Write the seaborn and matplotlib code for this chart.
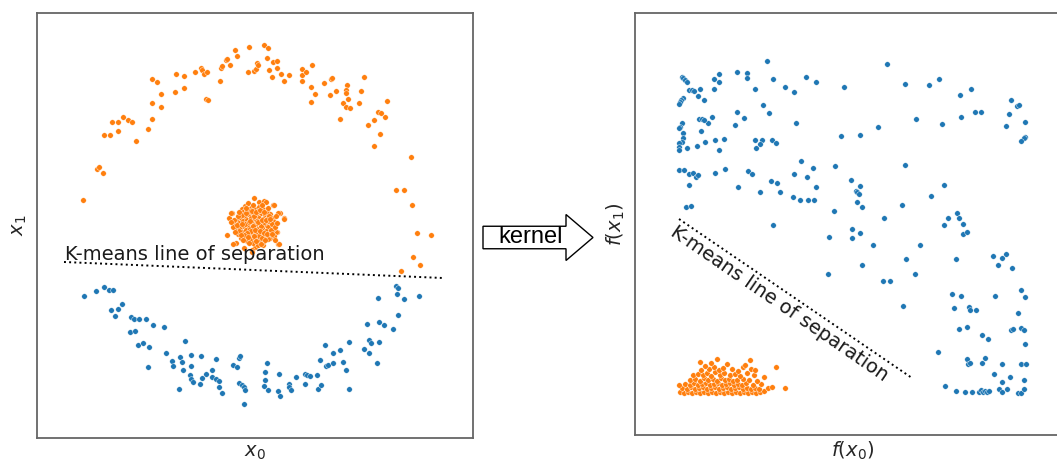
import matplotlib
matplotlib.use("Agg")
import matplotlib.pyplot as plt
import matplotlib.patches as mpatches
import seaborn as sns
import pandas as pd

# ---- left panel: raw data (x0, x1) ----
ring_top = [
    (-1.72, 0.24), (-1.58, 0.55), (-1.56, 0.57), (-1.52, 0.51), (-1.51, 0.89), (-1.45, 0.89),
    (-1.43, 1.02), (-1.37, 1.02), (-1.37, 0.93), (-1.32, 1.07), (-1.27, 1.04), (-1.23, 1.02),
    (-1.19, 0.83), (-1.07, 0.95), (-1.03, 1.05), (-1.03, 1.21), (-1.03, 1.45), (-0.98, 1.42),
    (-0.94, 1.17), (-0.94, 1.30), (-0.80, 1.32), (-0.79, 1.50), (-0.71, 1.48), (-0.71, 1.36),
    (-0.60, 1.52), (-0.54, 1.56), (-0.53, 1.54), (-0.51, 1.50), (-0.48, 1.52), (-0.49, 1.25),
    (-0.47, 1.24), (-0.35, 1.43), (-0.34, 1.56), (-0.33, 1.58), (-0.29, 1.64), (-0.28, 1.65),
    (-0.25, 1.59), (-0.20, 1.74), (-0.18, 1.68), (-0.07, 1.52), (-0.06, 1.77), (-0.01, 1.53),
    (0.01, 1.55), (0.02, 1.61), (0.03, 1.59), (0.09, 1.79), (0.13, 1.76), (0.12, 1.66),
    (0.14, 1.54), (0.17, 1.47), (0.18, 1.62), (0.22, 1.63), (0.22, 1.56), (0.26, 1.50),
    (0.29, 1.43), (0.34, 1.49), (0.47, 1.55), (0.47, 1.49), (0.47, 1.43), (0.51, 1.52),
    (0.57, 1.59), (0.56, 1.37), (0.60, 1.30), (0.56, 1.22), (0.69, 1.41), (0.76, 1.45),
    (0.77, 1.46), (0.75, 1.29), (0.81, 1.33), (0.85, 1.05), (0.88, 1.21), (0.91, 1.17),
    (0.92, 1.39), (0.91, 1.34), (0.91, 1.31), (0.93, 1.25), (0.95, 1.16), (1.04, 1.21),
    (1.06, 1.33), (1.09, 1.47), (1.13, 0.99), (1.19, 1.04), (1.19, 0.78), (1.23, 1.12),
    (1.26, 1.11), (1.25, 0.90), (1.30, 1.07), (1.32, 1.23), (1.56, 0.67), (1.41, 0.34),
    (1.49, 0.34), (1.57, 0.19), (1.62, -0.09), (1.76, -0.11), (1.58, -0.33), (1.65, -0.41),
    (1.46, -0.47),
]
inner_blob = [
    (-0.01, 0.26), (0.04, 0.22), (0.09, 0.23), (0.11, 0.22), (0.18, 0.19), (-0.10, 0.18),
    (-0.13, 0.15), (0.25, 0.11), (0.29, 0.06), (0.18, 0.06), (-0.23, 0.11), (-0.26, 0.06),
    (-0.28, -0.11), (0.22, -0.08), (0.23, -0.20), (-0.19, -0.19), (-0.11, -0.24), (0.00, -0.23),
    (-0.03, -0.26), (0.08, -0.21), (0.15, -0.14), (-0.24, 0.11), (-0.07, 0.21), (0.19, 0.19),
    (0.29, 0.05), (0.23, 0.11), (0.21, -0.08), (0.24, -0.20), (-0.22, -0.20), (-0.03, -0.28),
    (-0.15, 0.10), (-0.12, 0.12), (-0.08, 0.14), (-0.04, 0.16), (0.00, 0.15), (0.04, 0.17),
    (0.08, 0.15), (0.12, 0.13), (0.15, 0.10), (0.17, 0.06), (-0.18, 0.05), (-0.14, 0.06),
    (-0.10, 0.08), (-0.06, 0.10), (-0.02, 0.11), (0.02, 0.10), (0.06, 0.11), (0.10, 0.09),
    (0.13, 0.06), (0.19, 0.02), (-0.20, 0.00), (-0.16, 0.01), (-0.12, 0.03), (-0.08, 0.04),
    (-0.04, 0.06), (0.00, 0.05), (0.04, 0.06), (0.08, 0.05), (0.12, 0.02), (0.16, -0.01),
    (-0.19, -0.05), (-0.15, -0.04), (-0.11, -0.02), (-0.07, -0.01), (-0.03, 0.01), (0.01, 0.00),
    (0.05, 0.01), (0.09, -0.01), (0.13, -0.03), (0.18, -0.05), (-0.17, -0.10), (-0.13, -0.08),
    (-0.09, -0.06), (-0.05, -0.05), (-0.01, -0.04), (0.03, -0.05), (0.07, -0.04), (0.11, -0.07),
    (0.15, -0.09), (0.19, -0.12), (-0.14, -0.14), (-0.10, -0.12), (-0.06, -0.10), (-0.02, -0.09),
    (0.02, -0.10), (0.06, -0.09), (0.10, -0.12), (0.13, -0.15), (-0.08, -0.17), (-0.04, -0.15),
    (0.00, -0.14), (0.04, -0.16), (0.08, -0.18), (-0.02, -0.19), (0.03, -0.21), (-0.10, 0.00),
    (-0.06, 0.02), (-0.02, -0.02), (0.02, 0.03), (0.06, -0.02), (-0.04, -0.07), (0.00, -0.06),
    (0.04, -0.12), (-0.08, -0.09), (0.09, 0.02), (-0.13, 0.09), (0.11, 0.12), (-0.01, 0.08),
    (0.03, 0.13), (-0.05, 0.13), (0.14, 0.03), (-0.16, -0.07), (0.16, -0.06), (-0.11, -0.11),
    (0.07, -0.14), (-0.21, 0.04), (-0.17, 0.08), (-0.09, 0.11), (-0.03, 0.13), (0.01, 0.12),
    (0.05, 0.14), (0.09, 0.12), (0.14, 0.08), (0.17, 0.00), (0.20, -0.03), (-0.22, -0.03),
    (-0.18, -0.01), (-0.13, 0.00), (-0.05, 0.03), (0.03, 0.02), (0.07, 0.04), (0.11, 0.04),
    (0.15, 0.05), (-0.14, -0.11), (-0.07, -0.13), (-0.01, -0.12), (0.05, -0.07), (0.09, -0.09),
    (0.12, -0.10), (0.17, -0.10), (-0.12, -0.16), (-0.06, -0.19), (0.01, -0.17), (0.06, -0.20),
    (0.10, -0.16), (-0.20, -0.08), (-0.24, 0.02), (0.21, 0.08), (0.22, 0.01), (-0.16, 0.12),
    (0.07, 0.19), (-0.02, 0.19), (-0.09, 0.16), (0.13, 0.16), (0.20, -0.16),
]
ring_bottom = [
    (-1.71, -0.72), (-1.59, -0.67), (-1.51, -0.63), (-1.46, -0.66), (-1.42, -0.66), (-1.44, -0.86),
    (-1.37, -0.85), (-1.33, -0.80), (-1.40, -0.92), (-1.24, -0.93), (-1.21, -0.95), (-1.16, -0.95),
    (-1.09, -0.95), (-1.25, -1.08), (-1.20, -1.07), (-1.02, -1.01), (-0.91, -1.03), (-1.17, -1.21),
    (-1.12, -1.19), (-1.06, -1.23), (-1.07, -1.43), (-0.89, -1.29), (-0.83, -1.37), (-0.82, -1.42),
    (-0.75, -1.33), (-0.73, -1.38), (-0.72, -1.46), (-0.70, -1.17), (-0.76, -1.65), (-0.64, -1.31),
    (-0.64, -1.42), (-0.65, -1.51), (-0.64, -1.55), (-0.62, -1.58), (-0.54, -1.32), (-0.55, -1.60),
    (-0.53, -1.54), (-0.49, -1.50), (-0.43, -1.46), (-0.43, -1.53), (-0.39, -1.35), (-0.39, -1.55),
    (-0.36, -1.57), (-0.36, -1.63), (-0.33, -1.69), (-0.22, -1.41), (-0.18, -1.43), (-0.16, -1.34),
    (-0.15, -1.32), (-0.16, -1.59), (-0.13, -1.61), (-0.11, -1.63), (-0.10, -1.66), (-0.11, -1.80),
    (0.12, -1.39), (0.10, -1.48), (0.10, -1.56), (0.09, -1.62), (0.13, -1.66), (0.24, -1.50),
    (0.23, -1.67), (0.25, -1.72), (0.34, -1.60), (0.34, -1.63), (0.36, -1.66), (0.41, -1.53),
    (0.50, -1.50), (0.52, -1.51), (0.55, -1.52), (0.50, -1.60), (0.62, -1.51), (0.63, -1.65),
    (0.66, -1.61), (0.65, -1.36), (0.70, -1.21), (0.71, -1.42), (0.73, -1.41), (0.78, -1.29),
    (0.78, -1.39), (0.85, -1.26), (0.88, -1.38), (0.91, -1.46), (0.94, -1.18), (0.94, -1.65),
    (1.09, -1.25), (1.14, -1.16), (1.16, -1.19), (1.14, -1.29), (1.24, -1.18), (1.22, -1.39),
    (1.12, -1.00), (1.24, -0.98), (1.29, -1.01), (1.38, -1.05), (1.23, -0.74), (1.43, -0.91),
    (1.41, -0.62), (1.43, -0.64), (1.42, -0.70), (1.49, -0.75), (1.64, -0.72),
]
kmeans_left_x = [-1.91, 1.88]
kmeans_left_y = [-0.38, -0.54]

# ---- right panel: kernel features f(x0), f(x1) ----
feat_blue = [
    (1.32, 3.74), (2.52, 3.71), (0.47, 3.58), (0.48, 3.57), (0.50, 3.55), (0.52, 3.53),
    (0.54, 3.45), (0.57, 3.45), (0.59, 3.44), (0.65, 3.46), (0.63, 3.39), (0.69, 3.35),
    (0.48, 3.37), (0.46, 3.35), (0.45, 3.33), (0.44, 3.31), (0.79, 3.56), (0.84, 3.61),
    (0.84, 3.53), (0.79, 3.46), (1.02, 3.63), (1.12, 3.62), (1.12, 3.57), (1.20, 3.46),
    (1.38, 3.56), (1.50, 3.48), (1.59, 3.43), (1.71, 3.58), (1.81, 3.53), (2.09, 3.48),
    (2.70, 3.51), (2.94, 3.50), (3.04, 3.56), (3.25, 3.40), (3.36, 3.46), (3.76, 3.35),
    (3.82, 3.29), (3.84, 3.30), (3.74, 3.21), (3.71, 3.09), (3.90, 3.13), (3.90, 2.98),
    (3.89, 2.97), (3.86, 2.94), (3.40, 3.23), (3.46, 3.23), (3.26, 3.18), (3.07, 3.11),
    (2.81, 3.16), (2.43, 3.08), (2.06, 2.99), (2.25, 3.00), (1.61, 3.12), (1.28, 3.30),
    (1.34, 3.22), (1.02, 3.23), (1.09, 3.17), (1.00, 3.10), (0.77, 3.18), (0.73, 3.12),
    (0.64, 3.16), (0.67, 3.16), (0.69, 3.15), (0.66, 3.04), (0.47, 3.12), (0.45, 3.08),
    (0.44, 3.07), (0.48, 3.02), (0.48, 2.97), (0.47, 2.93), (0.44, 2.92), (0.44, 2.88),
    (0.44, 2.85), (0.52, 2.87), (0.62, 2.89), (0.70, 2.93), (0.80, 2.95), (0.89, 2.96),
    (0.84, 2.85), (1.20, 2.95), (1.27, 2.95), (1.25, 2.91), (1.21, 2.87), (1.37, 2.95),
    (1.41, 2.92), (0.44, 2.65), (0.49, 2.65), (0.54, 2.61), (0.58, 2.62), (0.61, 2.58),
    (0.63, 2.60), (0.80, 2.62), (0.90, 2.66), (0.54, 2.50), (0.51, 2.28), (0.56, 2.29),
    (1.13, 2.64), (1.17, 2.61), (1.03, 2.48), (1.25, 2.43), (1.36, 2.54), (1.42, 2.52),
    (1.45, 2.43), (1.66, 2.74), (1.59, 2.61), (1.72, 2.58), (1.78, 2.67), (1.81, 2.48),
    (1.58, 2.38), (1.65, 2.35), (1.73, 2.35), (1.79, 2.35), (2.00, 2.69), (2.16, 2.55),
    (2.25, 2.49), (2.21, 2.44), (2.22, 2.43), (2.24, 2.41), (2.22, 2.33), (2.27, 2.28),
    (1.99, 2.24), (1.38, 2.10), (2.49, 2.17), (2.67, 2.30), (2.70, 2.70), (2.96, 2.39),
    (3.09, 2.50), (3.22, 2.22), (3.24, 2.17), (3.13, 2.17), (3.09, 2.10), (3.28, 2.01),
    (2.17, 1.97), (1.94, 1.98), (2.17, 2.06), (2.25, 2.02), (2.38, 1.90), (1.93, 1.61),
    (2.27, 1.70), (2.48, 1.54), (2.55, 1.54), (2.71, 1.76), (2.85, 1.90), (2.80, 1.61),
    (2.68, 1.29), (3.28, 2.11), (3.32, 2.03), (3.21, 1.76), (3.58, 1.79), (3.63, 1.70),
    (3.67, 1.77), (3.71, 1.81), (3.77, 1.67), (3.17, 1.41), (3.26, 1.39), (3.60, 1.39),
    (3.86, 1.45), (3.90, 1.38), (3.19, 1.27), (3.34, 1.28), (3.35, 1.25), (3.41, 1.25),
    (3.83, 1.22), (3.24, 1.06), (3.32, 1.08), (3.47, 1.00), (3.53, 0.96), (3.76, 1.05),
    (3.78, 1.06), (3.86, 1.07), (3.89, 1.05), (3.90, 0.91), (3.03, 0.83), (3.32, 0.76),
    (3.33, 0.71), (3.35, 0.72), (3.47, 0.72), (3.50, 0.77), (3.67, 0.71), (3.86, 0.71),
    (3.91, 0.71), (3.59, 0.61), (3.75, 0.58), (3.67, 0.53), (3.89, 0.55), (3.10, 0.49),
    (3.21, 0.44), (3.30, 0.43), (3.37, 0.43), (3.44, 0.43), (3.46, 0.45), (3.48, 0.43),
    (3.50, 0.44), (3.52, 0.43), (3.54, 0.44), (3.64, 0.46), (3.67, 0.43), (3.72, 0.46),
    (3.83, 0.42), (3.86, 0.42), (3.89, 0.46),
]
feat_orange = [
    (0.45, 0.43), (0.49, 0.42), (0.53, 0.43), (0.57, 0.42), (0.61, 0.43), (0.65, 0.42),
    (0.69, 0.43), (0.73, 0.42), (0.77, 0.43), (0.81, 0.42), (0.85, 0.43), (0.89, 0.42),
    (0.93, 0.43), (0.97, 0.42), (1.01, 0.43), (1.05, 0.42), (1.09, 0.43), (1.13, 0.42),
    (1.17, 0.43), (1.21, 0.42), (1.25, 0.43), (1.29, 0.44), (0.47, 0.47), (0.52, 0.46),
    (0.56, 0.48), (0.60, 0.46), (0.64, 0.47), (0.68, 0.48), (0.72, 0.46), (0.76, 0.47),
    (0.80, 0.48), (0.84, 0.46), (0.88, 0.47), (0.92, 0.48), (0.96, 0.46), (1.00, 0.47),
    (1.04, 0.48), (1.08, 0.46), (1.12, 0.47), (1.16, 0.46), (1.20, 0.47), (1.24, 0.46),
    (1.33, 0.47), (1.37, 0.48), (0.50, 0.51), (0.55, 0.50), (0.59, 0.52), (0.63, 0.50),
    (0.67, 0.51), (0.71, 0.52), (0.75, 0.50), (0.79, 0.51), (0.83, 0.52), (0.87, 0.50),
    (0.91, 0.51), (0.95, 0.52), (0.99, 0.50), (1.03, 0.51), (1.07, 0.50), (1.11, 0.52),
    (1.18, 0.50), (1.26, 0.51), (0.55, 0.55), (0.60, 0.56), (0.65, 0.54), (0.69, 0.57),
    (0.73, 0.55), (0.78, 0.56), (0.82, 0.54), (0.86, 0.57), (0.90, 0.55), (0.94, 0.56),
    (0.98, 0.54), (1.02, 0.55), (1.08, 0.56), (1.14, 0.55), (1.22, 0.54), (0.58, 0.60),
    (0.63, 0.61), (0.68, 0.60), (0.72, 0.62), (0.76, 0.59), (0.80, 0.63), (0.85, 0.60),
    (0.89, 0.62), (0.95, 0.60), (1.00, 0.61), (1.05, 0.59), (1.12, 0.62), (1.19, 0.60),
    (0.66, 0.65), (0.74, 0.66), (0.79, 0.68), (0.84, 0.65), (0.88, 0.67), (0.97, 0.66),
    (1.03, 0.64), (1.08, 0.68), (1.16, 0.66), (1.50, 0.47), (1.41, 0.68), (0.82, 0.76),
    (0.65, 0.73), (1.15, 0.75), (1.10, 0.70), (0.44, 0.50), (0.70, 0.69), (1.29, 0.58),
    (1.20, 0.65), (0.76, 0.72), (0.92, 0.71),
]
kmeans_right_x = [0.44, 2.77]
kmeans_right_y = [2.16, 0.57]

BLUE = "#1f77b4"
ORANGE = "#ff7f0e"

sns.set_style("white")
plt.rcParams["font.family"] = ["DejaVu Sans"]
plt.rcParams["mathtext.fontset"] = "dejavusans"

W, H = 1057, 461
fig = plt.figure(figsize=(W / 100, H / 100), dpi=100)
ax1 = fig.add_axes([37 / W, 23 / H, 436 / W, 425 / H])
ax2 = fig.add_axes([635 / W, 26 / H, 436 / W, 422 / H])


def to_df(pts):
    return pd.DataFrame(pts, columns=["x", "y"])


dot = dict(s=16, edgecolor="white", linewidth=0.3, legend=False)

sns.scatterplot(data=to_df(ring_bottom), x="x", y="y", color=BLUE, ax=ax1, **dot)
sns.scatterplot(data=to_df(ring_top), x="x", y="y", color=ORANGE, ax=ax1, **dot)
sns.scatterplot(data=to_df(inner_blob), x="x", y="y", color=ORANGE, ax=ax1, **dot)
ax1.plot(kmeans_left_x, kmeans_left_y, ls=":", color="black", lw=1.4)
ax1.text(-1.90, -0.355, "K-means line of separation", fontsize=14,
         color="#1a1a1a", ha="left", va="baseline")
ax1.set_xlim(-2.18, 2.18)
ax1.set_ylim(-2.14, 2.11)

sns.scatterplot(data=to_df(feat_blue), x="x", y="y", color=BLUE, ax=ax2, **dot)
sns.scatterplot(data=to_df(feat_orange), x="x", y="y", color=ORANGE, ax=ax2, **dot)
ax2.plot(kmeans_right_x, kmeans_right_y, ls=":", color="black", lw=1.4)
ax2.text(0.34, 2.00, "K-means line of separation", fontsize=14, color="#1a1a1a",
         rotation=-34.5, rotation_mode="anchor", ha="left", va="baseline")
ax2.set_xlim(0, 4.36)
ax2.set_ylim(0, 4.22)

for ax, xl, yl in [(ax1, "$x_0$", "$x_1$"), (ax2, "$f(x_0)$", "$f(x_1)$")]:
    ax.set_xticks([])
    ax.set_yticks([])
    ax.set_xlabel(xl, fontsize=14, labelpad=3.5)
    ax.set_ylabel(yl, fontsize=14, labelpad=6)
    for sp in ax.spines.values():
        sp.set_color("#666666")
        sp.set_linewidth(1.3)

# kernel arrow between the panels
arrow = mpatches.FancyArrow(483 / W, 1 - 237.5 / H, 110 / W, 0,
                            width=22.5 / H, head_width=46 / H, head_length=27 / W,
                            length_includes_head=True, transform=fig.transFigure,
                            facecolor="white", edgecolor="black", linewidth=1.0)
fig.add_artist(arrow)
fig.text(531 / W, 1 - 237 / H, "kernel", fontsize=17, family="Liberation Sans",
         ha="center", va="center", color="black")

fig.savefig("out.png", dpi=100)
